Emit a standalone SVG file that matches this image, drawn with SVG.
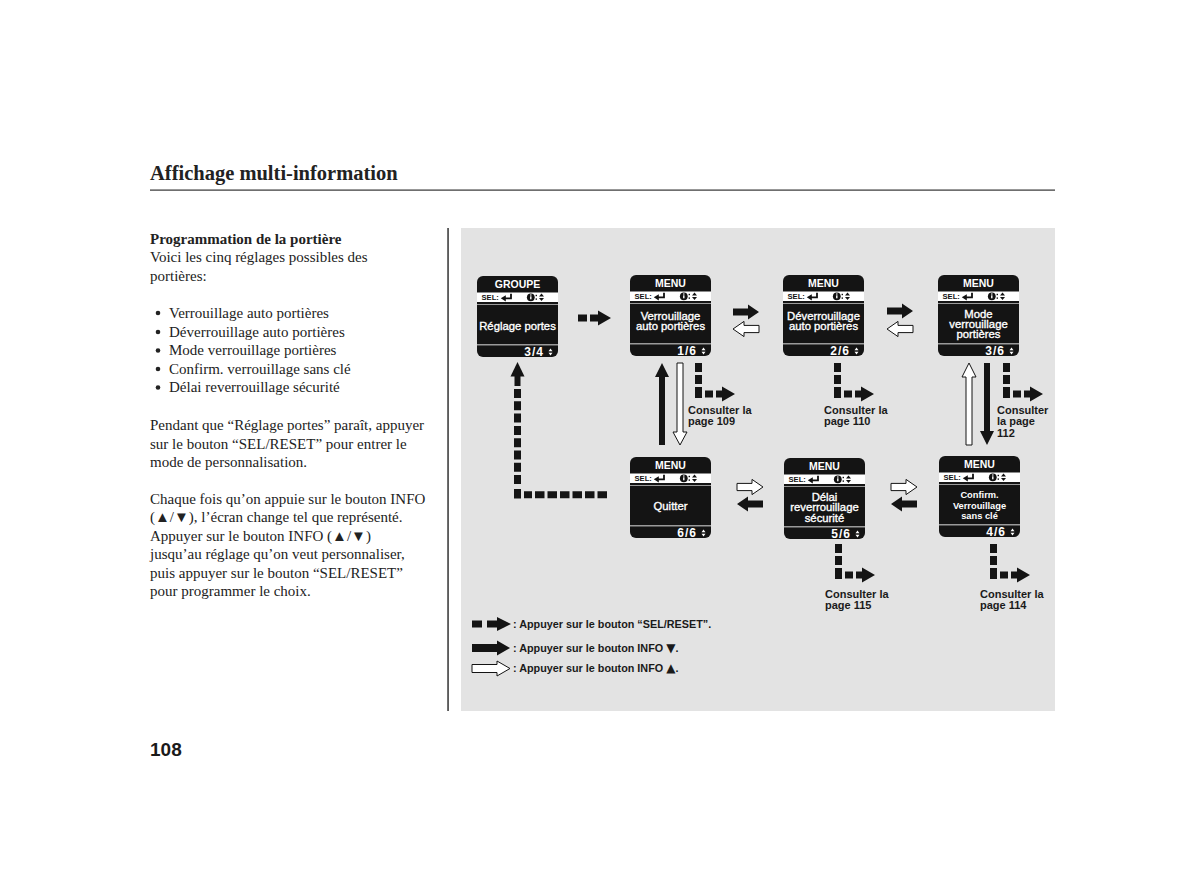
<svg xmlns="http://www.w3.org/2000/svg" xmlns:xlink="http://www.w3.org/1999/xlink" width="1200" height="892" viewBox="0 0 1200 892">
<style>
.serif{font-family:"Liberation Serif","Times New Roman",serif;fill:#222;font-size:15px}
.title{font-family:"Liberation Serif","Times New Roman",serif;font-weight:bold;font-size:20.5px;fill:#222}
.b{font-weight:bold}
.lab{font-family:"Liberation Sans",Arial,sans-serif;font-weight:bold;font-size:11px;fill:#1a1a1a}
.leg{font-family:"Liberation Sans",Arial,sans-serif;font-weight:bold;font-size:10.8px;fill:#1a1a1a}
.tri{font-family:"DejaVu Sans",sans-serif;font-size:12px}
.hdr{font-family:"Liberation Sans",Arial,sans-serif;font-weight:bold;font-size:10.5px;fill:#fff;text-anchor:middle}
.sel{font-family:"Liberation Sans",Arial,sans-serif;font-weight:bold;font-size:7.6px;fill:#111}
.main{font-family:"Liberation Sans",Arial,sans-serif;font-size:11.3px;fill:#fff;stroke:#fff;stroke-width:0.35;text-anchor:middle}
.mainb{font-family:"Liberation Sans",Arial,sans-serif;font-weight:bold;font-size:9.3px;fill:#fff;text-anchor:middle}
.foot{font-family:"Liberation Sans",Arial,sans-serif;font-weight:bold;font-size:12px;fill:#fff;text-anchor:end;letter-spacing:1px}
.blk{fill:#141414}
.wht{fill:#fff;stroke:#141414;stroke-width:1}
</style>
<defs>
<g id="frame">
  <rect x="0" y="0" width="81" height="81" rx="6" fill="#141414"/>
  <rect x="0" y="16.5" width="81" height="9.5" fill="#fff"/>
  <rect x="0" y="28" width="81" height="1" fill="#9a9a9a"/>
  <rect x="0" y="68" width="81" height="1.5" fill="#9a9a9a"/>
  <text class="sel" x="4.5" y="24.3">SEL:</text>
  <path d="M34 17.8 V22.3 H28" fill="none" stroke="#111" stroke-width="1.8"/>
  <polygon points="23.8,22.3 28.8,19.2 28.8,25.4" fill="#111"/>
  <circle cx="53.8" cy="21.3" r="3.9" fill="#111"/>
  <rect x="53.1" y="20.3" width="1.4" height="3" fill="#fff"/>
  <rect x="53.1" y="18.4" width="1.4" height="1.2" fill="#fff"/>
  <rect x="58.6" y="18.8" width="1.4" height="1.4" fill="#111"/>
  <rect x="58.6" y="22.4" width="1.4" height="1.4" fill="#111"/>
  <polygon points="62,20.6 67,20.6 64.5,17.6" fill="#111"/>
  <polygon points="62,22 67,22 64.5,25" fill="#111"/>
  <polygon points="71.5,75.3 75.5,75.3 73.5,72.6" fill="#fff"/>
  <polygon points="71.5,76.7 75.5,76.7 73.5,79.4" fill="#fff"/>
</g>
<path id="arr" d="M0 -3.6 H15 V-7.6 L26 0 L15 7.6 V3.6 H0 Z"/>
<g id="cons" class="blk">
  <rect x="0" y="0" width="7" height="9"/>
  <rect x="0" y="12" width="7" height="9"/>
  <rect x="0" y="24" width="7" height="11"/>
  <rect x="10" y="27.5" width="8" height="7"/>
  <path d="M21 27.5 H27 V23.5 L40 31 L27 38.5 V34.5 H21 Z"/>
</g>
</defs>

<rect x="0" y="0" width="1200" height="892" fill="#fff"/>
<rect x="461" y="228" width="594" height="483" fill="#e3e3e3"/>

<g id="page-text">
  <text class="title" x="150" y="180">Affichage multi-information</text>
  <rect x="150" y="189.5" width="905" height="1.2" fill="#333"/>
  <rect x="447.3" y="228" width="1.5" height="483" fill="#333"/>
  <text class="serif b" x="150" y="243.5">Programmation de la portière</text>
  <text class="serif" x="150" y="262">Voici les cinq réglages possibles des</text>
  <text class="serif" x="150" y="280.5">portières:</text>
  <circle cx="158" cy="313" r="2.3" fill="#222"/><text class="serif" x="169" y="317.5">Verrouillage auto portières</text>
  <circle cx="158" cy="332" r="2.3" fill="#222"/><text class="serif" x="169" y="336.5">Déverrouillage auto portières</text>
  <circle cx="158" cy="350.5" r="2.3" fill="#222"/><text class="serif" x="169" y="355">Mode verrouillage portières</text>
  <circle cx="158" cy="369" r="2.3" fill="#222"/><text class="serif" x="169" y="373.5">Confirm. verrouillage sans clé</text>
  <circle cx="158" cy="387.5" r="2.3" fill="#222"/><text class="serif" x="169" y="392">Délai reverrouillage sécurité</text>
  <text class="serif" x="150" y="430">Pendant que “Réglage portes” paraît, appuyer</text>
  <text class="serif" x="150" y="448.5">sur le bouton “SEL/RESET” pour entrer le</text>
  <text class="serif" x="150" y="467">mode de personnalisation.</text>
  <text class="serif" x="150" y="503.5">Chaque fois qu’on appuie sur le bouton INFO</text>
  <text class="serif" x="150" y="522">(▲/▼), l’écran change tel que représenté.</text>
  <text class="serif" x="150" y="540.5">Appuyer sur le bouton INFO (▲/▼)</text>
  <text class="serif" x="150" y="559">jusqu’au réglage qu’on veut personnaliser,</text>
  <text class="serif" x="150" y="577.5">puis appuyer sur le bouton “SEL/RESET”</text>
  <text class="serif" x="150" y="596">pour programmer le choix.</text>
  <text x="150" y="756" font-family="Liberation Sans, Arial, sans-serif" font-weight="bold" font-size="19" fill="#1a1a1a">108</text>
</g>

<g id="node-groupe" transform="translate(477,276)">
  <use xlink:href="#frame"/>
  <text class="hdr" x="40.5" y="12">GROUPE</text>
  <text class="main" x="40.5" y="53.5" font-size="10.8">Réglage portes</text>
  <text class="foot" x="67" y="80">3/4</text>
</g>
<g id="node-verrouillage" transform="translate(630,275)">
  <use xlink:href="#frame"/>
  <text class="hdr" x="40.5" y="12">MENU</text>
  <text class="main" x="40.5" y="44.5">Verrouillage</text>
  <text class="main" x="40.5" y="54.5">auto portières</text>
  <text class="foot" x="67" y="80">1/6</text>
</g>
<g id="node-deverrouillage" transform="translate(783,275)">
  <use xlink:href="#frame"/>
  <text class="hdr" x="40.5" y="12">MENU</text>
  <text class="main" x="40.5" y="44.5">Déverrouillage</text>
  <text class="main" x="40.5" y="54.5">auto portières</text>
  <text class="foot" x="67" y="80">2/6</text>
</g>
<g id="node-mode" transform="translate(938,275)">
  <use xlink:href="#frame"/>
  <text class="hdr" x="40.5" y="12">MENU</text>
  <text class="main" x="40.5" y="43">Mode</text>
  <text class="main" x="40.5" y="53">verrouillage</text>
  <text class="main" x="40.5" y="63">portières</text>
  <text class="foot" x="67" y="80">3/6</text>
</g>
<g id="node-quitter" transform="translate(630,457)">
  <use xlink:href="#frame"/>
  <text class="hdr" x="40.5" y="12">MENU</text>
  <text class="main" x="40.5" y="53">Quitter</text>
  <text class="foot" x="67" y="80">6/6</text>
</g>
<g id="node-delai" transform="translate(784,458)">
  <use xlink:href="#frame"/>
  <text class="hdr" x="40.5" y="12">MENU</text>
  <text class="main" x="40.5" y="42.5">Délai</text>
  <text class="main" x="40.5" y="53">reverrouillage</text>
  <text class="main" x="40.5" y="63.5">sécurité</text>
  <text class="foot" x="67" y="80">5/6</text>
</g>
<g id="node-confirm" transform="translate(939,456)">
  <use xlink:href="#frame"/>
  <text class="hdr" x="40.5" y="12">MENU</text>
  <text class="mainb" x="40.5" y="42">Confirm.</text>
  <text class="mainb" x="40.5" y="52.5">Verrouillage</text>
  <text class="mainb" x="40.5" y="63">sans clé</text>
  <text class="foot" x="67" y="80">4/6</text>
</g>

<g id="connectors">
  <g class="blk">
    <rect x="578" y="314.5" width="9" height="7"/>
    <path d="M590 314.5 H598 V310.5 L611 318 L598 325.5 V321.5 H590 Z"/>
  </g>
  <use xlink:href="#arr" class="blk" transform="translate(733,312)"/>
  <use xlink:href="#arr" class="wht" transform="translate(759,329) scale(-1,1)"/>
  <use xlink:href="#arr" class="blk" transform="translate(887,311)"/>
  <use xlink:href="#arr" class="wht" transform="translate(913,329) scale(-1,1)"/>
  <use xlink:href="#arr" class="wht" transform="translate(737,487)"/>
  <use xlink:href="#arr" class="blk" transform="translate(763,504) scale(-1,1)"/>
  <use xlink:href="#arr" class="wht" transform="translate(891,487)"/>
  <use xlink:href="#arr" class="blk" transform="translate(917,504) scale(-1,1)"/>
  <path class="blk" d="M659 445 V377 H655 L662 363 L669 377 H665 V445 Z"/>
  <path class="wht" d="M677 363 H683 V432 H687 L680 445 L673 432 H677 Z"/>
  <path class="wht" d="M966 445 V377 H962 L969 363 L976 377 H972 V445 Z"/>
  <path class="blk" d="M984 363 H990 V431 H994 L987 445 L980 431 H984 Z"/>
  <use xlink:href="#cons" transform="translate(695,363)"/>
  <use xlink:href="#cons" transform="translate(834,363)"/>
  <use xlink:href="#cons" transform="translate(1003,363)"/>
  <use xlink:href="#cons" transform="translate(835,544)"/>
  <use xlink:href="#cons" transform="translate(990,544)"/>
  <path d="M607 494.8 H524" fill="none" stroke="#141414" stroke-width="7" stroke-dasharray="9.5 3"/>
  <rect class="blk" x="514" y="489" width="7" height="9.5"/>
  <path d="M517.5 389 V486" fill="none" stroke="#141414" stroke-width="7" stroke-dasharray="9 3.3"/>
  <rect class="blk" x="514.5" y="375" width="6" height="11"/>
  <polygon class="blk" points="510.5,376.5 524.5,376.5 517.5,362"/>
  <text class="lab" x="688" y="413.5">Consulter la</text>
  <text class="lab" x="688" y="425">page 109</text>
  <text class="lab" x="824" y="413.5">Consulter la</text>
  <text class="lab" x="824" y="425">page 110</text>
  <text class="lab" x="997" y="413.5">Consulter</text>
  <text class="lab" x="997" y="425">la page</text>
  <text class="lab" x="997" y="436.5">112</text>
  <text class="lab" x="825" y="597.5">Consulter la</text>
  <text class="lab" x="825" y="609">page 115</text>
  <text class="lab" x="980" y="597.5">Consulter la</text>
  <text class="lab" x="980" y="609">page 114</text>
</g>

<g id="legend">
  <rect class="blk" x="472" y="620.5" width="10" height="7"/>
  <path class="blk" d="M487 620.5 H497 V617 L511 624 L497 631 V627.5 H487 Z"/>
  <text class="leg" x="513" y="628">: Appuyer sur le bouton “SEL/RESET”.</text>
  <path class="blk" d="M472 644 H497 V640.5 L510 648 L497 655.5 V652 H472 Z"/>
  <text class="leg" x="513" y="651.5">: Appuyer sur le bouton INFO <tspan class="tri">▼</tspan>.</text>
  <path class="wht" d="M472 664.5 H497 V661 L510 668.5 L497 676 V672.5 H472 Z"/>
  <text class="leg" x="513" y="671.5">: Appuyer sur le bouton INFO <tspan class="tri">▲</tspan>.</text>
</g>
</svg>
